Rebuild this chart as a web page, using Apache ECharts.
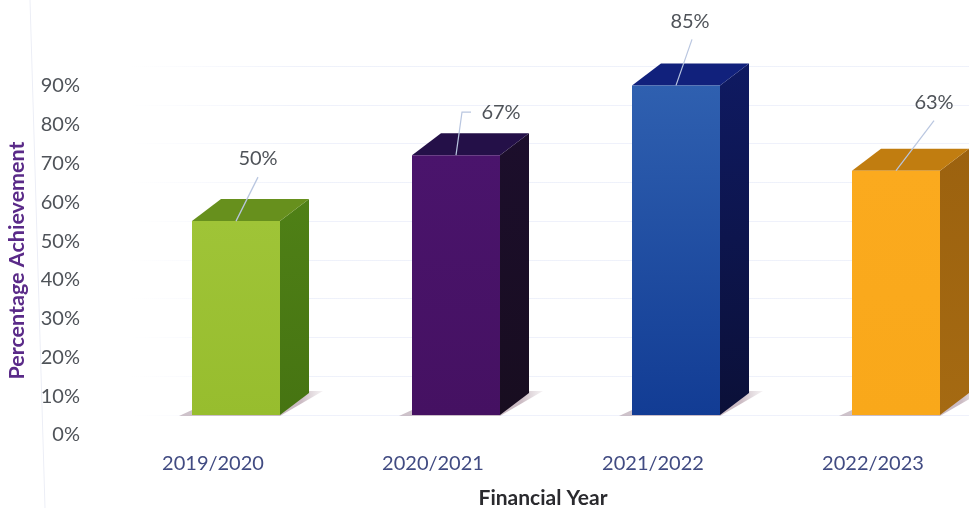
<!DOCTYPE html>
<html>
<head>
<meta charset="utf-8">
<style>html,body{margin:0;padding:0;background:#fff}#chart{width:969px;height:508px}</style>
<script src="https://cdn.jsdelivr.net/npm/echarts@6/dist/echarts.min.js"></script>
</head>
<body>
<div id="chart"></div>
<script>
// Annual achievement figures
const years = ['2019/2020', '2020/2021', '2021/2022', '2022/2023'];
const achievement = [50, 67, 85, 63];

// Face colours of each box: front (top to bottom), lid, side (top to bottom)
const frontColors = [['#9fc437', '#97bd2e'], ['#4a146c', '#451162'], ['#2f60b0', '#123c94'], ['#fbaa1e', '#f9a81a']];
const lidColors = ['#67901d', '#241048', '#11217c', '#c17d10'];
const sideColors = [['#4f8016', '#467412'], ['#1c0e2c', '#180d20'], ['#0f1a62', '#0b1038'], ['#9c620f', '#a56a12']];

// Callout routes, as offsets from the middle of the box's front top edge
const calloutRoutes = [
  [[0, 0], [22, -44]],
  [[0, 0], [6, -43], [15, -43]],
  [[0, 0], [16, -46]],
  [[0, 0], [38, -50]]
];
const calloutTextOffsets = [[22, -63], [45, -43], [14, -64], [38, -68]];

const DEPTH_X = 29, DEPTH_Y = 22;
const FONT = 'Lato, "Open Sans", sans-serif';
const LABEL_INK = '#4f5359';

function vertical(c) {
  return new echarts.graphic.LinearGradient(0, 0, 0, 1, [
    { offset: 0, color: c[0] }, { offset: 1, color: c[1] }
  ]);
}

function drawBox(params, api) {
  const i = params.dataIndex;
  const top = api.coord([api.value(0), api.value(1)]);
  const base = api.coord([api.value(0), 0]);
  const w = api.size([1, 0])[0] * 0.4;
  const l = top[0] - w / 2, r = top[0] + w / 2;
  const t = top[1], b = base[1];

  const shadow = new echarts.graphic.LinearGradient(0, 0, 1, 0, [
    { offset: 0, color: 'rgba(190,175,185,0.75)' },
    { offset: 0.85, color: 'rgba(190,170,180,0.8)' },
    { offset: 1, color: 'rgba(215,205,210,0.25)' }
  ]);

  const route = calloutRoutes[i].map(p => [top[0] + p[0], t + p[1]]);
  const off = calloutTextOffsets[i];

  return {
    type: 'group',
    children: [
      { type: 'polygon', shape: { points: [[l - 13, b + 1], [l, b - 5], [r + DEPTH_X, b - DEPTH_Y - 2], [r + DEPTH_X + 14, b - DEPTH_Y - 2], [r, b + 1]] }, style: { fill: shadow } },
      { type: 'polygon', shape: { points: [[r, t], [r + DEPTH_X, t - DEPTH_Y], [r + DEPTH_X, b - DEPTH_Y], [r, b]] }, style: { fill: vertical(sideColors[i]) } },
      { type: 'polygon', shape: { points: [[l, t], [l + DEPTH_X, t - DEPTH_Y], [r + DEPTH_X, t - DEPTH_Y], [r, t]] }, style: { fill: lidColors[i] } },
      { type: 'rect', shape: { x: l, y: t, width: w, height: b - t }, style: { fill: vertical(frontColors[i]) } },
      { type: 'polyline', shape: { points: route }, style: { fill: 'none', stroke: '#b9c6e0', lineWidth: 1.2 } },
      { type: 'text', style: { text: api.value(1) + '%', x: top[0] + off[0], y: t + off[1], align: 'center', verticalAlign: 'middle', fill: LABEL_INK, font: '20px ' + FONT } }
    ]
  };
}

// Gridlines fade in from the left of the plot
const gridFade = new echarts.graphic.LinearGradient(130, 0, 300, 0, [
  { offset: 0, color: 'rgba(236,239,250,0)' },
  { offset: 1, color: 'rgba(236,239,250,0.85)' }
], true);

const chart = echarts.init(document.getElementById('chart'), null, { renderer: 'canvas' });
chart.setOption({
  animation: false,
  backgroundColor: '#fff',
  graphic: [{
    type: 'line', silent: true, z: -1,
    shape: { x1: 30, y1: 0, x2: 45, y2: 508 },
    style: { stroke: '#eceef6', lineWidth: 1 }
  }],
  grid: [
    // Labelled axes sit in front of the floor of the box plane
    { left: 103, width: 880, top: 86, height: 349, outerBoundsMode: 'none' },
    // Boxes and back-wall gridlines
    { left: 126, width: 880, top: 66, height: 349, outerBoundsMode: 'none' }
  ],
  xAxis: [
    {
      type: 'category', gridIndex: 0, data: years,
      axisLine: { show: false }, axisTick: { show: false },
      axisLabel: { color: '#414b82', fontFamily: FONT, fontSize: 20, margin: 19 },
      name: 'Financial Year', nameLocation: 'middle', nameGap: 53,
      nameTextStyle: { color: '#2a2a2e', fontFamily: FONT, fontSize: 21, fontWeight: 'bold' }
    },
    {
      type: 'category', gridIndex: 1, data: years,
      axisLine: { show: false }, axisTick: { show: false }, axisLabel: { show: false }
    }
  ],
  yAxis: [
    {
      type: 'value', gridIndex: 0, min: 0, max: 90, interval: 10,
      axisLine: { show: false }, axisTick: { show: false }, splitLine: { show: false },
      axisLabel: { formatter: '{value}%', color: LABEL_INK, fontFamily: FONT, fontSize: 20, margin: 23 },
      name: 'Percentage Achievement', nameLocation: 'middle', nameGap: 75,
      nameTextStyle: { color: '#5a2a88', fontFamily: FONT, fontSize: 21.5, fontWeight: 'bold' }
    },
    {
      type: 'value', gridIndex: 1, min: 0, max: 90, interval: 10,
      axisLine: { show: false }, axisTick: { show: false }, axisLabel: { show: false },
      splitLine: { lineStyle: { color: gridFade, width: 1 } }
    }
  ],
  series: [{
    type: 'custom',
    xAxisIndex: 1, yAxisIndex: 1,
    clip: false,
    encode: { x: 0, y: 1 },
    data: achievement.map((v, i) => [i, v]),
    renderItem: drawBox
  }]
});
</script>
</body>
</html>
